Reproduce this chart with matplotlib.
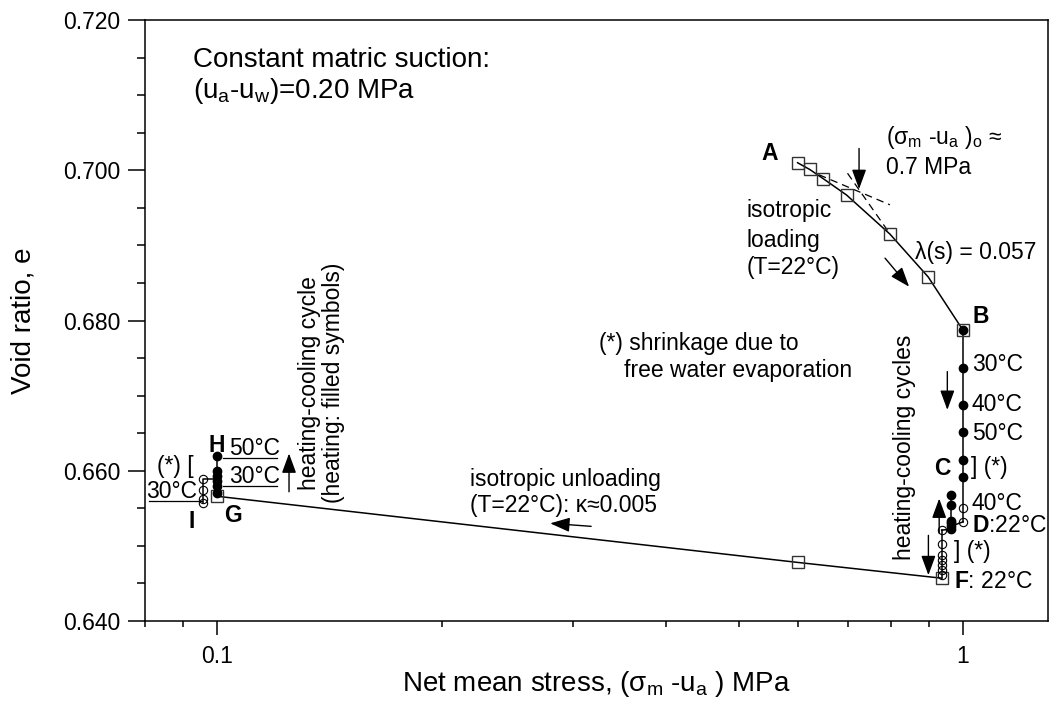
import matplotlib
matplotlib.use("Agg")
import matplotlib.pyplot as plt
from matplotlib.ticker import FixedLocator, MultipleLocator, NullFormatter, FixedFormatter

plt.rcParams.update({
    "font.family": ["Liberation Sans", "DejaVu Sans"],
    "mathtext.fontset": "custom",
    "mathtext.rm": "Liberation Sans",
    "mathtext.it": "Liberation Sans:italic",
    "mathtext.bf": "Liberation Sans:bold",
})

# isotropic loading A -> B at T = 22 °C
load_p = [0.600, 0.623, 0.649, 0.698, 0.798, 0.898, 1.000]
load_e = [0.7010, 0.7001, 0.6989, 0.6967, 0.6915, 0.6858, 0.6787]

# Casagrande construction (two tangents) around the yield stress
tangent1_p = [0.641, 0.798]
tangent1_e = [0.6994, 0.6954]
tangent2_p = [0.700, 0.792]
tangent2_e = [0.6996, 0.6920]

# first heating-cooling cycle at 1.0 MPa (B -> C -> D)
cyc1_p = 1.0
cyc1_heat_e = [0.6787, 0.6737, 0.6688, 0.6652, 0.6614, 0.6592]
cyc1_cool_e = [0.6550, 0.6532]

# second heating-cooling cycle (D -> F)
cyc2_heat_p = 0.963
cyc2_heat_e = [0.6522, 0.6526, 0.6530, 0.6533, 0.6555, 0.6568]
cyc2_cool_p = 0.936
cyc2_cool_e = [0.6521, 0.6503, 0.6488, 0.6481, 0.6475, 0.6468, 0.6461]

# isotropic unloading F -> G at T = 22 °C
unload_p = [0.936, 0.600, 0.100]
unload_e = [0.6457, 0.6478, 0.6566]

# heating-cooling cycle at 0.1 MPa (G -> H -> I)
cyc3_heat_p = 0.100
cyc3_heat_e = [0.6570, 0.6580, 0.6587, 0.6593, 0.6600, 0.6620]
cyc3_cool_p = 0.0956
cyc3_cool_e = [0.6589, 0.6574, 0.6562, 0.6557]

x_major = [0.1, 1.0]
x_major_labels = ["0.1", "1"]
x_minor = [0.08, 0.09, 0.2, 0.3, 0.4, 0.5, 0.6, 0.7, 0.8, 0.9]

LW = 1.1
ANN = 16.5

fig = plt.figure(figsize=(10.5, 7.06), dpi=100)
ax = fig.add_axes([145 / 1050, 85 / 706, 903 / 1050, 601 / 706])
ax.set_xscale("log")
ax.set_xlim(0.08, 1.3)
ax.set_ylim(0.640, 0.720)

sq = dict(marker="s", ms=8, mfc="none", mec="#333333", mew=1.0, ls="none", zorder=4)
full = dict(marker="o", ms=6, mfc="black", mec="black", ls="none", zorder=5)
hollow = dict(marker="o", ms=6, mfc="none", mec="black", mew=0.8, ls="none", zorder=5)
line = dict(color="black", lw=LW, zorder=3)

# loading branch
ax.plot(load_p, load_e, **line)
ax.plot(load_p, load_e, **sq)
ax.plot(tangent1_p, tangent1_e, color="black", lw=0.9, ls=(0, (6, 4)))
ax.plot(tangent2_p, tangent2_e, color="black", lw=0.9, ls=(0, (6, 4)))

# cycle 1
ax.plot([cyc1_p] * (len(cyc1_heat_e) + len(cyc1_cool_e)), cyc1_heat_e + cyc1_cool_e, **line)
ax.plot([cyc1_p] * len(cyc1_heat_e), cyc1_heat_e, **full)
ax.plot([cyc1_p] * len(cyc1_cool_e), cyc1_cool_e, **hollow)

# cycle 2
ax.plot([cyc1_p, cyc2_heat_p], [cyc1_cool_e[-1], cyc2_heat_e[1]], **line)
ax.plot([cyc2_heat_p] * len(cyc2_heat_e), cyc2_heat_e, **line)
ax.plot([cyc2_heat_p, cyc2_cool_p], [cyc2_heat_e[0], cyc2_cool_e[0]], **line)
ax.plot([cyc2_cool_p] * (len(cyc2_cool_e) + 1), cyc2_cool_e + [unload_e[0]], **line)
ax.plot([cyc2_heat_p] * len(cyc2_heat_e), cyc2_heat_e, **full)
ax.plot([cyc2_cool_p] * len(cyc2_cool_e), cyc2_cool_e, **hollow)

# unloading
ax.plot(unload_p, unload_e, **line)
ax.plot(unload_p, unload_e, **sq)

# cycle 3
ax.plot([cyc3_heat_p] * (len(cyc3_heat_e) + 1), [unload_e[-1]] + cyc3_heat_e, **line)
ax.plot([cyc3_heat_p] + [cyc3_cool_p] * len(cyc3_cool_e),
        [cyc3_cool_e[0]] + cyc3_cool_e, **line)
ax.plot([cyc3_heat_p] * len(cyc3_heat_e), cyc3_heat_e, **full)
ax.plot([cyc3_cool_p] * len(cyc3_cool_e), cyc3_cool_e, **hollow)


def arrow(x0, y0, x1, y1):
    ax.annotate("", xy=(x1, y1), xytext=(x0, y0),
                arrowprops=dict(arrowstyle="-|>,head_length=0.6,head_width=0.22",
                                mutation_scale=20, lw=1.0, color="black",
                                shrinkA=0, shrinkB=0), zorder=6)


def txt(x, y, s, **kw):
    kw.setdefault("fontsize", ANN)
    kw.setdefault("va", "center")
    kw.setdefault("ha", "left")
    ax.text(x, y, s, **kw)


# header
ax.text(0.053, 0.933, "Constant matric suction:", transform=ax.transAxes,
        fontsize=20, va="center")
ax.text(0.053, 0.882, r"(u$_{\mathrm{a}}$-u$_{\mathrm{w}}$)=0.20 MPa",
        transform=ax.transAxes, fontsize=20, va="center")

# loading annotations
txt(0.551, 0.7022, "A", ha="center", fontweight="bold")
txt(0.788, 0.7044, r"(σ$_{\mathrm{m}}$ -u$_{\mathrm{a}}$ )$_{\mathrm{o}}$ ≈")
txt(0.788, 0.7004, "0.7 MPa")
txt(0.512, 0.6946, "isotropic")
txt(0.512, 0.6907, "loading")
txt(0.512, 0.6871, "(T=22°C)")
txt(0.862, 0.6891, "λ(s) = 0.057")
arrow(0.7254, 0.7029, 0.7254, 0.6975)
arrow(0.786, 0.6883, 0.8466, 0.6845)

# right-hand cycles
txt(1.055, 0.6805, "B", ha="center", fontweight="bold")
txt(1.028, 0.6741, "30°C")
txt(1.028, 0.6688, "40°C")
txt(1.028, 0.6650, "50°C")
txt(0.938, 0.6603, "C", ha="center", fontweight="bold")
txt(1.024, 0.6604, "] (*)")
txt(1.028, 0.6556, "40°C")
txt(1.028, 0.6527, r"$\mathbf{D}$:22°C")
txt(0.9726, 0.6492, "] (*)")
txt(0.9726, 0.6452, r"$\mathbf{F}$: 22°C")
txt(0.8335, 0.6631, "heating-cooling cycles", rotation=90, ha="center")
arrow(0.9527, 0.6732, 0.9527, 0.6681)
arrow(0.929, 0.6517, 0.929, 0.6563)
arrow(0.8986, 0.6514, 0.8986, 0.6461)

txt(0.3252, 0.6769, "(*) shrinkage due to")
txt(0.3512, 0.6734, "free water evaporation")

# unloading annotations
txt(0.2184, 0.6589, "isotropic unloading")
txt(0.2184, 0.6554, "(T=22°C): κ≈0.005")
arrow(0.3172, 0.6526, 0.2795, 0.6530)

# left-hand cycle
txt(0.0998, 0.6633, "H", ha="center", fontweight="bold")
txt(0.1048, 0.6540, "G", ha="center", fontweight="bold")
txt(0.0924, 0.6532, "I", ha="center", fontweight="bold")
txt(0.0931, 0.6605, "(*) [", ha="right")
txt(0.0803, 0.6573, "30°C")
ax.plot([0.0811, 0.0955], [0.6560, 0.6560], color="black", lw=0.9)
txt(0.1038, 0.6629, "50°C")
txt(0.1038, 0.6592, "30°C")
ax.plot([0.1017, 0.1204], [0.66165, 0.66165], color="black", lw=0.9)
ax.plot([0.1017, 0.1204], [0.65797, 0.65797], color="black", lw=0.9)
arrow(0.1248, 0.6572, 0.1248, 0.6623)
txt(0.1328, 0.6717, "heating-cooling cycle", rotation=90, ha="center")
txt(0.1430, 0.6717, "(heating: filled symbols)", rotation=90, ha="center")

# axes styling
ax.xaxis.set_major_locator(FixedLocator(x_major))
ax.xaxis.set_major_formatter(FixedFormatter(x_major_labels))
ax.xaxis.set_minor_locator(FixedLocator(x_minor))
ax.xaxis.set_minor_formatter(NullFormatter())
ax.yaxis.set_major_locator(MultipleLocator(0.020))
ax.yaxis.set_minor_locator(MultipleLocator(0.005))
ax.yaxis.set_major_formatter(plt.FuncFormatter(lambda v, _: f"{v:.3f}"))

for s in ax.spines.values():
    s.set_linewidth(1.1)
ax.tick_params(axis="both", which="both", direction="out", width=1.1,
               top=False, right=False, labelsize=16.5)
ax.tick_params(axis="y", which="major", length=12, pad=6)
ax.tick_params(axis="y", which="minor", length=6)
ax.tick_params(axis="x", which="major", length=10, pad=7)
ax.tick_params(axis="x", which="minor", length=4.5)

ax.set_xlabel(r"Net mean stress, (σ$_{\mathrm{m}}$ -u$_{\mathrm{a}}$ ) MPa", fontsize=20)
ax.xaxis.label.set_va("center")
ax.xaxis.set_label_coords(0.5, -0.105)
ax.set_ylabel("Void ratio, e", fontsize=20)
ax.yaxis.label.set_va("center")
ax.yaxis.set_label_coords(-0.135, 0.5)

fig.savefig("out.png", dpi=100)
